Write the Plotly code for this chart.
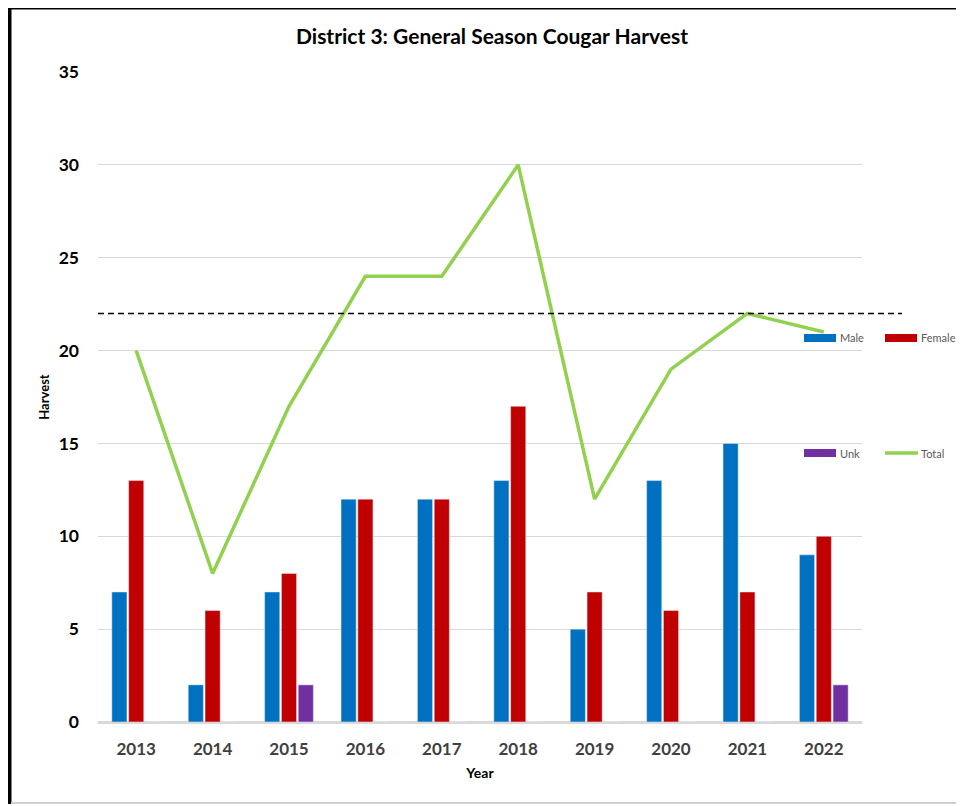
import plotly.graph_objects as go

years = ["2013", "2014", "2015", "2016", "2017", "2018", "2019", "2020", "2021", "2022"]
male = [7, 2, 7, 12, 12, 13, 5, 13, 15, 9]
female = [13, 6, 8, 12, 12, 17, 7, 6, 7, 10]
unk = [0, 0, 2, 0, 0, 0, 0, 0, 0, 2]
total = [20, 8, 17, 24, 24, 30, 12, 19, 22, 21]
threshold = 22

colors = {"Male": "#0070c0", "Female": "#c00000", "Unk": "#7030a0", "Total": "#92d050"}

# page body has an 8px margin; size the figure so the plot lands where intended
OFF = 8
W, H = 964 - OFF, 806 - OFF
PX0, PX1, PY0, PY1 = 98, 862, 72, 722  # plot area in window pixels
L, R, T, B = PX0 - OFF, 964 - PX1, PY0 - OFF, 806 - PY1
pw, ph = PX1 - PX0, PY1 - PY0


def px(x):
    return (x - PX0) / pw


def py(y):
    return (PY1 - y) / ph


FONT = "Lato"

fig = go.Figure()
fig.add_trace(go.Bar(x=years, y=male, name="Male", marker_color=colors["Male"]))
fig.add_trace(go.Bar(x=years, y=female, name="Female", marker_color=colors["Female"]))
fig.add_trace(go.Bar(x=years, y=unk, name="Unk", marker_color=colors["Unk"]))
fig.add_trace(go.Scatter(x=years, y=total, name="Total", mode="lines",
                         line=dict(color=colors["Total"], width=3.5)))

# threshold dashed line
fig.add_shape(type="line", xref="paper", yref="y", x0=0, x1=px(902), y0=threshold, y1=threshold,
              line=dict(color="black", width=1.4, dash="6px,4px"))

# outer frame
fig.add_shape(type="line", xref="paper", yref="paper", x0=px(7), x1=px(975), y0=py(7), y1=py(7),
              line=dict(color="black", width=5))
fig.add_shape(type="line", xref="paper", yref="paper", x0=px(9), x1=px(9), y0=py(5), y1=py(804),
              line=dict(color="black", width=5))
fig.add_shape(type="line", xref="paper", yref="paper", x0=px(11), x1=px(975), y0=py(803), y1=py(803),
              line=dict(color="#d0d0d0", width=2))

# legend (2 x 2 grid, wide swatches)
legend_items = [("Male", 804, 338, "bar"), ("Female", 885, 338, "bar"),
                ("Unk", 804, 453, "bar"), ("Total", 885, 453, "line")]
for name, sx, sy, kind in legend_items:
    if kind == "bar":
        fig.add_shape(type="rect", xref="paper", yref="paper",
                      x0=px(sx), x1=px(sx + 32), y0=py(sy - 4), y1=py(sy + 4),
                      line=dict(width=0), fillcolor=colors[name])
    else:
        fig.add_shape(type="line", xref="paper", yref="paper",
                      x0=px(sx), x1=px(sx + 33), y0=py(sy), y1=py(sy),
                      line=dict(color=colors[name], width=3.5))
    fig.add_annotation(text=name, xref="paper", yref="paper", x=px(sx + 34), y=py(sy),
                       xanchor="left", yanchor="middle", showarrow=False,
                       font=dict(family=FONT, size=11, color="#595959"))

fig.update_layout(
    width=W, height=H,
    margin=dict(l=L, r=R, t=T, b=B, autoexpand=False),
    paper_bgcolor="white", plot_bgcolor="white",
    showlegend=False,
    title=dict(text="<b>District 3: General Season Cougar Harvest</b>", x=px(492), xanchor="center",
               xref="paper", y=1 - (37 - OFF) / H, yanchor="middle",
               font=dict(family=FONT, size=21, color="black")),
    barmode="group", bargap=0.34, bargroupgap=0.1,
    font=dict(family=FONT),
)
fig.update_xaxes(
    title=dict(text="<b>Year</b>", font=dict(family=FONT, size=14, color="black"), standoff=10),
    tickfont=dict(family=FONT, size=17, color="#404040", weight="bold"),
    showline=True, linecolor="#d9d9d9", linewidth=1.5,
    ticks="", ticklabelstandoff=11,
)
fig.update_yaxes(
    title=dict(text="<b>Harvest</b>", font=dict(family=FONT, size=13, color="black"), standoff=6),
    range=[0, 35], dtick=5, tickfont=dict(family=FONT, size=17.5, color="black", weight="bold"),
    showgrid=True, gridcolor="#d9d9d9", gridwidth=1.2, zeroline=True, zerolinecolor="#d9d9d9",
    zerolinewidth=1.5, ticks="", ticklabelstandoff=18,
)

fig.write_html("out.html")
